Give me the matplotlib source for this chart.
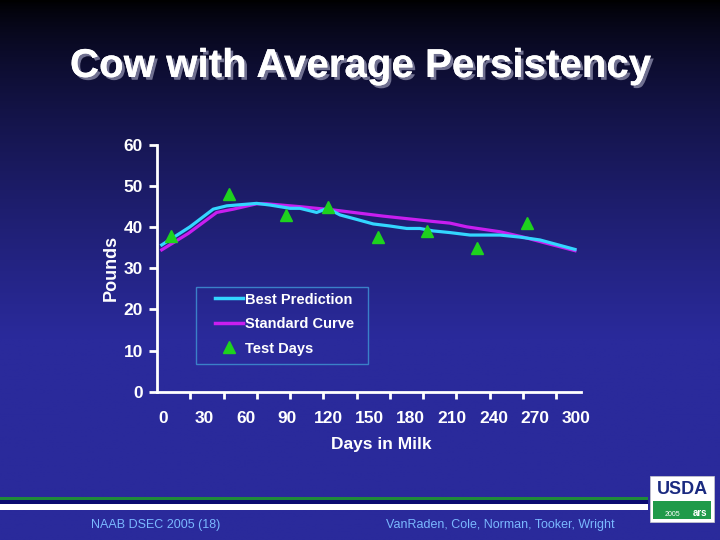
import numpy as np
import matplotlib.pyplot as plt
from matplotlib.lines import Line2D
from matplotlib.patches import Rectangle
import matplotlib.patheffects as pe

# test day yields
test_days = [5.6, 47.9, 89.3, 119.6, 155.9, 191.5, 227.8, 264.1]
test_lbs = [37.9, 48.1, 43.0, 45.0, 37.7, 39.1, 35.0, 41.0]

# best prediction curve
bp_days = [-0.9, 19.6, 36.5, 46.3, 68, 77.7, 92.2, 99.5, 111.6, 119.6, 128.5, 140.7,
           152.7, 164.8, 177, 186.6, 196.3, 208.4, 223, 244.7, 259.3, 273.8, 299.2]
bp_lbs = [35.7, 40.1, 44.4, 45.2, 45.8, 45.4, 44.6, 44.6, 43.6, 44.6, 43.0, 41.9,
          40.8, 40.3, 39.7, 39.7, 39.1, 38.7, 38.1, 38.1, 37.6, 36.9, 34.6]

# standard curve
sc_days = [-0.9, 18.4, 26.9, 39, 51.1, 68, 75.2, 99.5, 123.7, 160, 196.3, 208.4,
           220.5, 244.7, 261.7, 276.2, 299.2]
sc_lbs = [34.5, 38.5, 40.6, 43.6, 44.4, 45.7, 45.7, 45.0, 44.2, 42.7, 41.4, 41.0,
          40.1, 38.9, 37.6, 36.3, 34.3]

x_labels = [0, 30, 60, 90, 120, 150, 180, 210, 240, 270, 300]
y_ticks = [0, 10, 20, 30, 40, 50, 60]

cyan = '#33d6ff'
magenta = '#c81ef0'
green = '#1ed21e'
lblue = '#7ab8ff'
FONT = 'Liberation Sans'

fig = plt.figure(figsize=(7.2, 5.4), dpi=100)

# background gradient
bg = fig.add_axes([0, 0, 1, 1])
t = np.linspace(0, 1, 256)[:, None]
top = np.array([0, 0, 0])
bot = np.array([42, 42, 155]) / 255
g = np.clip(t * 1.6, 0, 1) ** 0.7
img = (1 - g)[:, :, None] * top + g[:, :, None] * bot
img = np.repeat(img, 2, axis=1)
bg.imshow(img, aspect='auto', extent=[0, 720, 540, 0])
bg.set_xlim(0, 720)
bg.set_ylim(540, 0)
bg.axis('off')

# footer stripes
bg.add_patch(Rectangle((0, 496.5), 648, 3, color='#1f8a3a', lw=0))
bg.add_patch(Rectangle((0, 499.5), 648, 4.5, color='#0a0a70', lw=0))
bg.add_patch(Rectangle((0, 504), 648, 6, color='white', lw=0))
# USDA logo
bg.add_patch(Rectangle((650, 476), 64, 46, facecolor='white', edgecolor='#cccccc', lw=0.5))
bg.add_patch(Rectangle((653, 501), 58, 18, facecolor='#1f9a4a', lw=0))
bg.text(682, 490, 'USDA', color='#1a2a80', fontsize=13, fontweight='bold',
        family=FONT, ha='center', va='center')
bg.text(672, 514, '2005', color='white', fontsize=5, family=FONT, ha='center', va='center')
bg.text(700, 513, 'ars', color='white', fontsize=7, fontweight='bold', family=FONT,
        ha='center', va='center')

bg.text(156, 525, 'NAAB DSEC 2005 (18)', color=lblue, fontsize=9,
        family=FONT, ha='center', va='center')
bg.text(500, 525, 'VanRaden, Cole, Norman, Tooker, Wright', color=lblue, fontsize=9,
        family=FONT, ha='center', va='center')

bg.text(360, 66, 'Cow with Average Persistency', color='white', fontsize=29,
        fontweight='bold', family=FONT, ha='center', va='center',
        path_effects=[pe.withSimplePatchShadow(offset=(2, -2), shadow_rgbFace='#707090', alpha=1),
                      pe.Normal()])

# chart
ax = fig.add_axes([157 / 720, 1 - 391.7 / 540, 423.7 / 720, 246.7 / 540])
ax.patch.set_alpha(0)
ax.plot(sc_days, sc_lbs, color=magenta, lw=2.3, zorder=2)
ax.plot(bp_days, bp_lbs, color=cyan, lw=2.3, zorder=3)
ax.plot(test_days, test_lbs, linestyle='none', marker='^', ms=8, color=green, zorder=4)

x0 = (157 - 163) / 1.377
x1 = (580.7 - 163) / 1.377
ax.set_xlim(x0, x1)
ax.set_ylim(0, 60)

for s in ['top', 'right']:
    ax.spines[s].set_visible(False)
for s in ['left', 'bottom']:
    ax.spines[s].set_color('white')
    ax.spines[s].set_linewidth(2)

ax.set_yticks(y_ticks)
ax.set_yticklabels([str(v) for v in y_ticks])
ax.set_xticks(x_labels)
ax.set_xticklabels([str(v) for v in x_labels])
step = (556 - 156.7) / 12 / 1.377
ax.set_xticks(x0 + step * np.arange(1, 13), minor=True)
ax.tick_params(axis='x', which='major', length=0, pad=14, colors='white', labelsize=12.5)
ax.tick_params(axis='x', which='minor', length=5, width=2, color='white')
ax.tick_params(axis='y', length=6, width=2, colors='white', labelsize=12.5, pad=4)
for lab in ax.get_xticklabels() + ax.get_yticklabels():
    lab.set_fontweight('bold')
    lab.set_family(FONT)

ax.set_xlabel('Days in Milk', color='white', fontsize=12.5, fontweight='bold', family=FONT)
ax.xaxis.set_label_coords((381 - 157) / 423.7, (391.7 - 437) / 246.7)
ax.set_ylabel('Pounds', color='white', fontsize=13, fontweight='bold', family=FONT)
ax.yaxis.set_label_coords((120 - 157) / 423.7, (391.7 - 268) / 246.7)

# legend frame drawn separately
ax.add_patch(Rectangle(((196 - 157) / 423.7, (391.7 - 364) / 246.7), 172 / 423.7, 77 / 246.7,
                       transform=ax.transAxes, facecolor='none', edgecolor='#3a80c8', lw=1,
                       zorder=1))
handles = [Line2D([], [], color=cyan, lw=2.5),
           Line2D([], [], color=magenta, lw=2.5),
           Line2D([], [], linestyle='none', marker='^', ms=8, color=green)]
leg = ax.legend(handles, ['Best Prediction', 'Standard Curve', 'Test Days'],
                loc='upper left', bbox_to_anchor=((215 - 157) / 423.7, (391.7 - 292.5) / 246.7),
                borderaxespad=0, borderpad=0, frameon=False, handlelength=1.9,
                handletextpad=0.15, labelspacing=0.72,
                prop={'family': FONT, 'weight': 'bold', 'size': 10.5})
for txt in leg.get_texts():
    txt.set_color('white')

fig.savefig('out.png', dpi=100)
